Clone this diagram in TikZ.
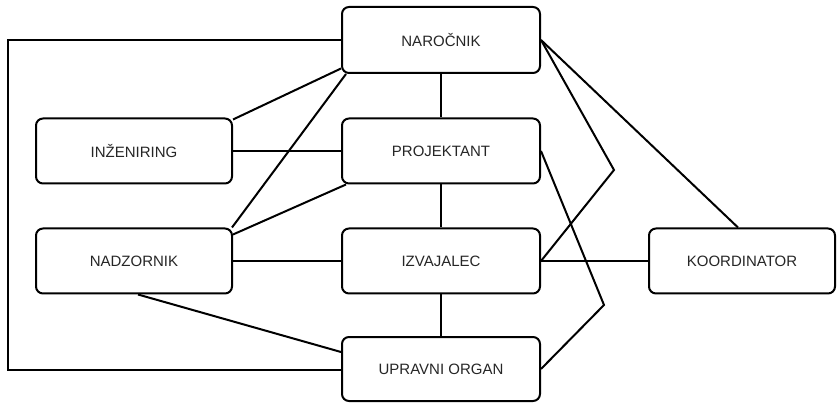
\documentclass[tikz,border=0pt]{standalone}
\usepackage{fontspec}
\setmainfont{Liberation Sans}
\begin{document}
\begin{tikzpicture}[x=1pt,y=-1pt,
  party/.style={draw, line width=2pt, rounded corners=7pt, minimum width=198pt,
    minimum height=65pt, inner sep=0pt, font=\fontsize{15pt}{17pt}\selectfont, text=black!85},
  link/.style={line width=2pt}]
  % canvas
  \useasboundingbox (0,0) rectangle (838,403);
  \fill[white] (0,0) rectangle (838,403);

  % parties
  \node[party, minimum height=66pt] (nar) at (441,40) {NAROČNIK};
  \node[party, minimum width=196pt] (ing) at (134,151) {INŽENIRING};
  \node[party] (pro) at (441,151) {PROJEKTANT};
  \node[party, minimum width=196pt] (nad) at (134,261) {NADZORNIK};
  \node[party] (izv) at (441,261) {IZVAJALEC};
  \node[party, minimum width=186pt] (kor) at (742,261) {KOORDINATOR};
  \node[party, minimum height=64pt] (upr) at (441,369) {UPRAVNI ORGAN};

  % bend points of the right-hand connectors and the outer loop
  \coordinate (bendA) at (614,170);
  \coordinate (bendB) at (604,305);
  \coordinate (loopx) at (8,370);

  % outer loop on the left
  \draw[link] (nar.west) -| (loopx) -- (loopx -| upr.west);

  % links to the left-hand column
  \draw[link] ([yshift=-2pt]ing.north east) -- ([yshift=5.5pt]nar.south west);
  \draw[link] ([xshift=5pt]nar.south west) -- ([xshift=-1pt]nad.north east);
  \draw[link] (ing.east) -- (pro.west);
  \draw[link] ([yshift=-7pt]nad.north east) -- ([xshift=5pt]pro.south west);
  \draw[link] (nad.east) -- (izv.west);
  \draw[link] ([xshift=4pt]nad.south) -- ([yshift=17pt]upr.west);

  % central column
  \draw[link, line width=1.6pt] (nar.south) -- (pro.north);
  \draw[link, line width=1.6pt] (pro.south) -- (izv.north);
  \draw[link, line width=1.6pt] (izv.south) -- (upr.north);

  % right-hand links
  \draw[link] (izv.east) -- (kor.west);
  \draw[link] (nar.east) -- ([xshift=-4pt]kor.north);
  \draw[link] (nar.east) -- (bendA) -- (izv.east);
  \draw[link] (pro.east) -- (bendB) -- (upr.east);
\end{tikzpicture}
\end{document}
